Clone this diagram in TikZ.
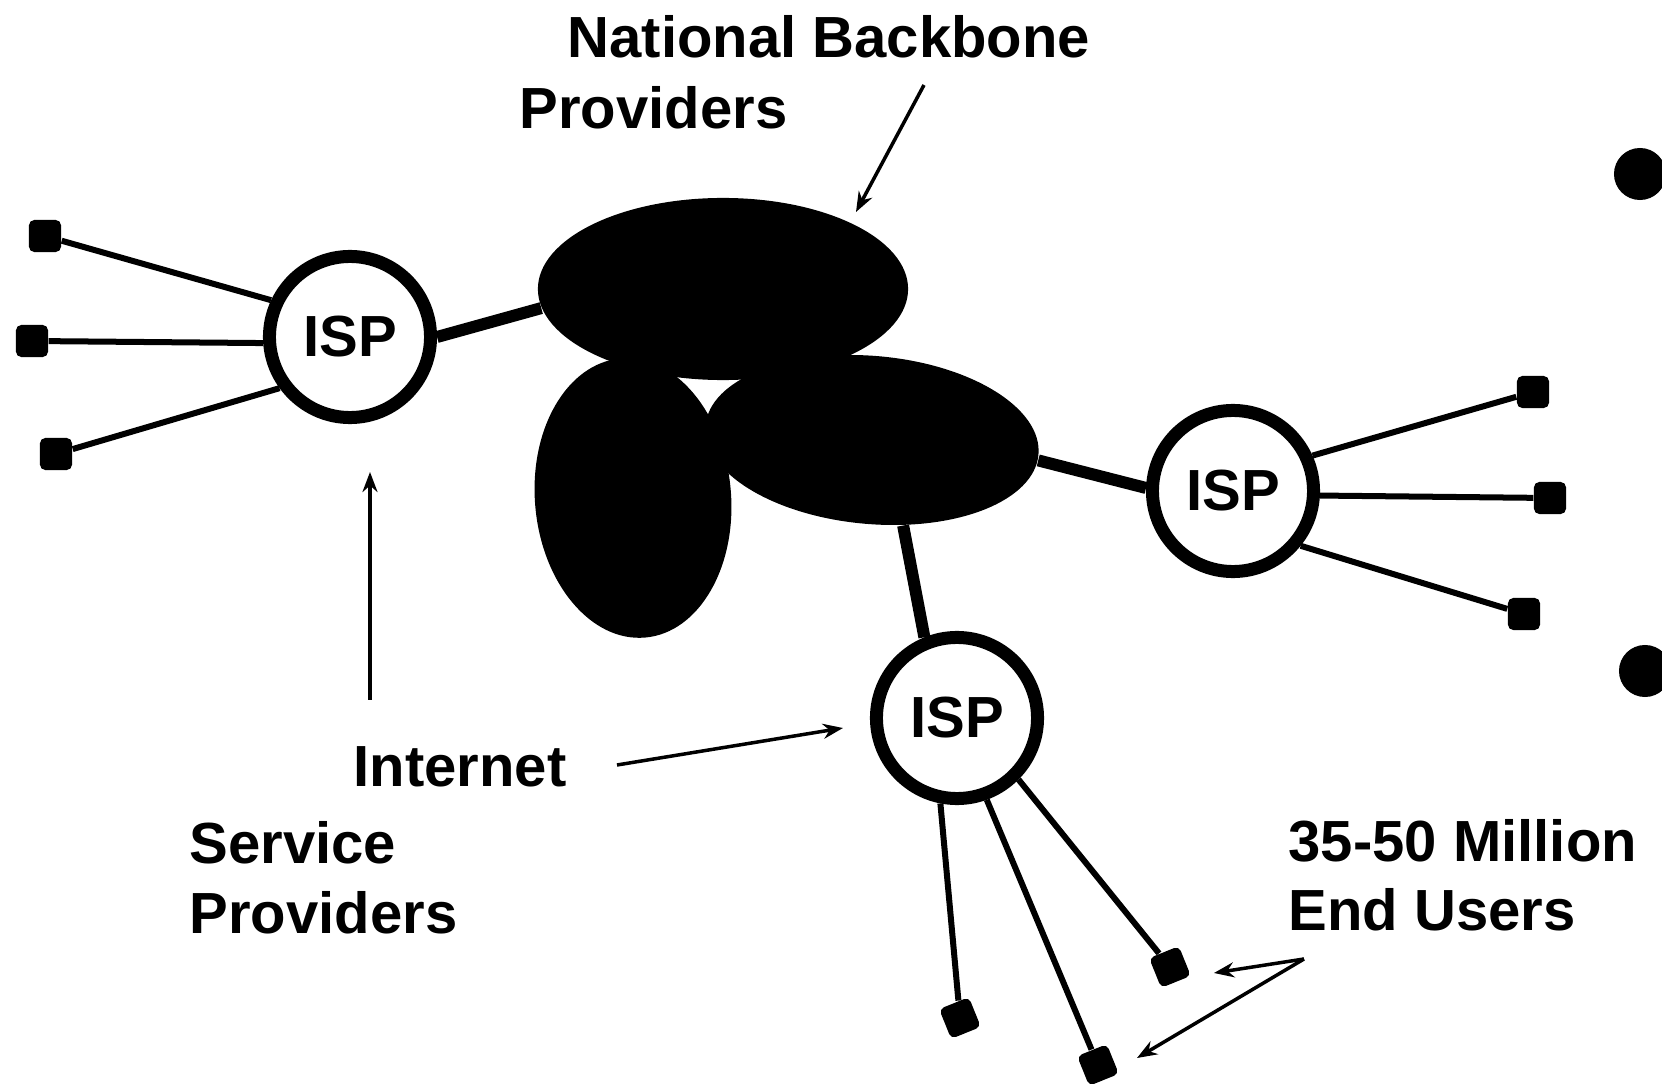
\documentclass[tikz,border=0pt]{standalone}
\usepackage{fontspec}
\setmainfont{Liberation Sans}
\usepackage{tikz}
\usetikzlibrary{shapes,arrows.meta}
\tikzset{isp node/.style={circle,draw,fill=white,line width=0.13cm,minimum size=1.61cm,inner sep=0pt},
  user node/.style={rectangle,fill=black,minimum size=0.32cm,inner sep=0pt,rounded corners=1.5pt},
  net node/.style={ellipse,fill=black,inner sep=0pt},  }

\begin{document}
\begin{tikzpicture}[x=0.01cm,y=-0.01cm,
        font=\fontsize{16.5}{19.9}\selectfont\bfseries,
        trunk/.style={line width=0.12cm},
        drop/.style={line width=0.06cm},
        pointer/.style={-{Stealth[length=0.2cm,width=0.15cm]},line width=0.035cm},
        label text/.style={anchor=base west,inner sep=0pt}]
   \useasboundingbox (0,0) rectangle (1662,1085);
   % backbone clouds
   \node[net node,minimum width=3.70cm,minimum height=1.82cm] (bbtop) at (723,289) {};
   \node[net node,minimum width=1.96cm,minimum height=2.80cm,rotate=5] (bbleft) at (633,498) {};
   \node[net node,minimum width=3.34cm,minimum height=1.68cm,rotate=-5] (bbright) at (872,440) {};
   % providers
   \node[isp node] (ispL) at (350,337) {ISP};
   \node[isp node] (ispR) at (1233,491) {ISP};
   \node[isp node] (ispB) at (957,718) {ISP};
   % end users
   \node[user node] (uL1) at (45,236) {};
   \node[user node] (uL2) at (32,341) {};
   \node[user node] (uL3) at (56,454) {};
   \node[user node] (uR1) at (1533,392) {};
   \node[user node] (uR2) at (1550,498) {};
   \node[user node] (uR3) at (1524,614) {};
   \node[user node,rotate=22] (uB1) at (960,1018) {};
   \node[user node,rotate=22] (uB2) at (1098,1065) {};
   \node[user node,rotate=22] (uB3) at (1170,967) {};

   \draw[trunk] (ispL.east) -- (bbtop.186);
   \draw[trunk] (bbright.-2) -- (ispR.178);
   \draw[trunk] (bbright.-65) -- (ispB.112);

   \draw[drop] (ispL.155) -- (uL1);
   \draw[drop] (ispL.184) -- (uL2);
   \draw[drop] (ispL.216) -- (uL3);
   \draw[drop] (ispR.24) -- (uR1);
   \draw[drop] (ispR.-3) -- (uR2);
   \draw[drop] (ispR.-39) -- (uR3);
   \draw[drop] (ispB.-101) -- (uB1);
   \draw[drop] (ispB.-70) -- (uB2);
   \draw[drop] (ispB.-45) -- (uB3);

   % labels
   \node[label text] (nbp1) at (567,58) {National Backbone};
   \node[label text] (nbp2) at (519,129) {Providers};
   \node[label text] (inet) at (353,787) {Internet};
   \node[label text] (svc1) at (189,864) {Service};
   \node[label text] (svc2) at (189,933) {Providers};
   \node[label text] (eu1) at (1288,862) {35-50 Million};
   \node[label text] (eu2) at (1288,931) {End Users};

   \coordinate (nbTail) at (924,85);
   \coordinate (nbHead) at (856,212);
   \coordinate (upTail) at (370,700);
   \coordinate (upHead) at (370,472);
   \coordinate (inTail) at (617,765);
   \coordinate (inHead) at (843,728);
   \coordinate (euTail) at (1304,959);
   \coordinate (euHeadA) at (1214,973);
   \coordinate (euHeadB) at (1137,1058);
   \draw[pointer] (nbTail) -- (nbHead);
   \draw[pointer] (upTail) -- (upHead);
   \draw[pointer] (inTail) -- (inHead);
   \draw[pointer] (euTail) -- (euHeadA);
   \draw[pointer] (euTail) -- (euHeadB);

   % slide bullets at the edge
   \fill (1640,174) circle (0.26cm);
   \fill (1645,671) circle (0.26cm);
\end{tikzpicture}
\end{document}
